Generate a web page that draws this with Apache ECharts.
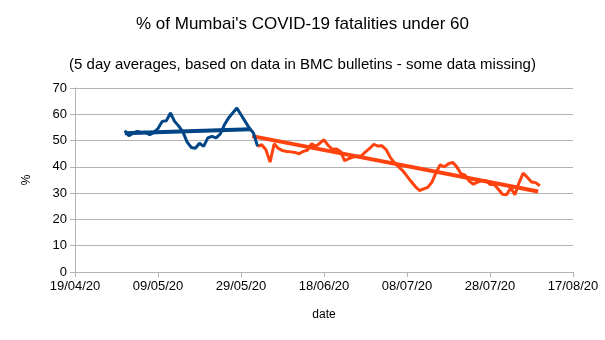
<!DOCTYPE html>
<html><head><meta charset="utf-8">
<script src="https://cdn.jsdelivr.net/npm/echarts@6/dist/echarts.min.js"></script>
<style>html,body{margin:0;padding:0;background:#fff}#c{width:605px;height:340px}</style>
</head><body><div id="c"></div>
<script>
// day 0 = 19/04/20
var xTickLabels = ['19/04/20','09/05/20','29/05/20','18/06/20','08/07/20','28/07/20','17/08/20'];
var blueStartDay = 12;   // 01/05/20
var blueValues = [53.8,51.8,52.8,53.5,53.1,53.2,52.2,53.1,54.6,57.3,57.5,60.5,57.3,55.5,53.3,49.5,47.4,47.1,49,47.8,51,51.6,51,52.5,56,58.6,60.5,62.4,59.8,57.3,54.8,52.9,47.8];
var orangeStartDay = 44; // 02/06/20
var orangeValues = [47.8,48.4,46.5,41.8,48.8,47,46.2,45.8,45.7,45.5,45.0,45.9,46.3,48.8,47.8,49,50.3,48.2,46.7,46.8,45.8,42.3,43.2,43.7,44,44.2,45.7,47,48.6,47.9,48,46.5,43.5,41.5,40,38.5,36.5,34.4,32.5,31,31.6,32.2,34.2,37.8,40.8,40,41.2,41.7,40,37.4,36.8,34.6,33.4,34.2,34.8,34.8,33.3,33.4,31.5,29.6,29.4,32,29.4,34,37.6,36,34.2,34,32.8];
// linear trend lines (end points)
var blueTrendDays = [12, 42.3];
var blueTrendValues = [52.8, 54.3];
var orangeTrendDays = [42.7, 111.6];
var orangeTrendValues = [51.7, 30.6];

function pairs(start, vals){ return vals.map(function(v,i){ return [start+i, v]; }); }
function zip(xs, ys){ return xs.map(function(x,i){ return [x, ys[i]]; }); }
var BLUE='#004586', ORANGE='#ff420e';
var chart = echarts.init(document.getElementById('c'), null, {renderer:'canvas'});
chart.setOption({
  animation:false,
  title:[
    {text:"% of Mumbai's COVID-19 fatalities under 60", left:'center', top:11, textStyle:{fontFamily:'Liberation Sans', fontSize:17, fontWeight:'normal', color:'#000'}},
    {text:"(5 day averages, based on data in BMC bulletins - some data missing)", left:'center', top:52, textStyle:{fontFamily:'Liberation Sans', fontSize:15, fontWeight:'normal', color:'#000'}}
  ],
  grid:{left:75, right:32, top:88, bottom:68},
  xAxis:{type:'value', min:0, max:120, interval:20, name:'date', nameLocation:'middle', nameGap:37,
    nameTextStyle:{fontFamily:'Liberation Sans', fontSize:12, color:'#000'},
    axisLine:{lineStyle:{color:'#b3b3b3'}}, axisTick:{show:true, length:5, lineStyle:{color:'#b3b3b3'}},
    splitLine:{show:false},
    axisLabel:{fontFamily:'Liberation Sans', fontSize:13, color:'#000', margin:8, formatter:function(v){return xTickLabels[Math.round(v/20)];}}},
  yAxis:{type:'value', min:0, max:70, interval:10, name:'%', nameLocation:'middle', nameGap:42, nameRotate:90,
    nameTextStyle:{fontFamily:'Liberation Sans', fontSize:12, color:'#000'},
    axisLine:{show:true, lineStyle:{color:'#b3b3b3'}}, axisTick:{show:true, length:5, lineStyle:{color:'#b3b3b3'}},
    splitLine:{lineStyle:{color:'#b3b3b3'}},
    axisLabel:{fontFamily:'Liberation Sans', fontSize:13, color:'#000', margin:8}},
  series:[
    {type:'line', data:pairs(orangeStartDay, orangeValues), symbol:'none', lineStyle:{color:ORANGE, width:3}, z:2},
    {type:'line', data:zip(orangeTrendDays, orangeTrendValues), symbol:'none', lineStyle:{color:ORANGE, width:4}, z:3},
    {type:'line', data:pairs(blueStartDay, blueValues), symbol:'none', lineStyle:{color:BLUE, width:3}, z:4},
    {type:'line', data:zip(blueTrendDays, blueTrendValues), symbol:'none', lineStyle:{color:BLUE, width:4}, z:5}
  ]
});
</script></body></html>
